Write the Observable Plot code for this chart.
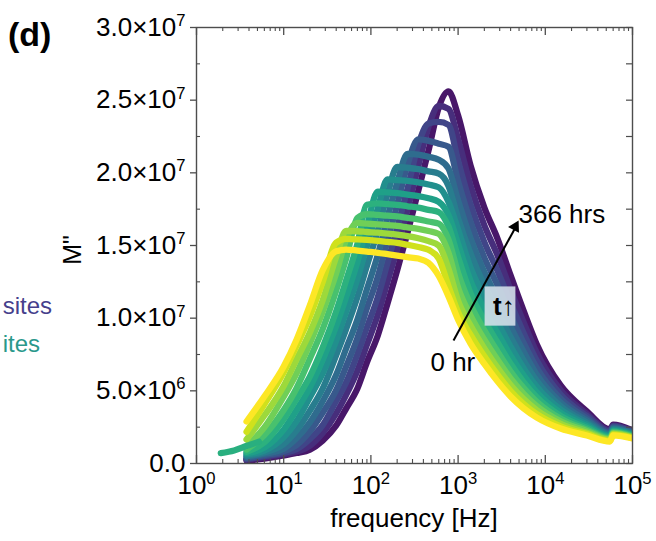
<!DOCTYPE html>
<html><head><meta charset="utf-8">
<script src="https://cdn.jsdelivr.net/npm/d3@7"></script>
<script src="https://cdn.jsdelivr.net/npm/@observablehq/plot@0.6"></script>
<style>
html,body{margin:0;padding:0;background:#fff;}
#chart{width:656px;height:541px;}
</style></head><body><div id="chart"></div>
<script>
// frequency grid (Hz)
const freq = [3.75, 6, 10, 14, 20, 28, 40, 52, 70, 90, 120, 155, 200, 263, 350, 458, 600, 776, 1000, 1390, 2000, 2830, 4000, 5620, 8000, 15000, 30000, 55000, 60000, 100000];
// M'' values in units of 1e6, from 0 hr (m0) to 366 hrs (m13)
const m0  = [0.21, 0.34, 0.55, 0.72, 0.96, 1.58, 2.61, 3.78, 5.16, 6.95, 8.81, 11.01, 13.28, 15.89, 18.78, 21.53, 24.5, 25.6, 23.94, 20.5, 17.61, 15.48, 12.94, 10.53, 8.19, 5.37, 3.58, 2.34, 2.68, 2.27];
const m1  = [0.26, 0.43, 0.64, 0.82, 1.23, 2.1, 3.45, 4.72, 6.38, 8.17, 10.23, 12.5, 14.78, 17.5, 20.47, 23.18, 24.6, 24.4, 22.32, 19.11, 16.38, 14.33, 11.95, 9.74, 7.61, 5.05, 3.41, 2.26, 2.61, 2.22];
const m2  = [0.31, 0.50, 0.73, 0.98, 1.69, 2.64, 4.3, 5.58, 7.52, 9.36, 11.45, 13.8, 16.2, 18.9, 21.95, 23.4, 23.5, 23.3, 20.82, 17.82, 15.23, 13.26, 11.04, 9.00, 7.07, 4.75, 3.26, 2.19, 2.55, 2.18];
const m3  = [0.38, 0.58, 0.84, 1.26, 2.21, 3.49, 5.05, 6.67, 8.63, 10.68, 12.85, 15.34, 17.79, 20.55, 22.3, 22.2, 22.0, 21.8, 19.41, 16.62, 14.16, 12.27, 10.20, 8.32, 6.57, 4.46, 3.10, 2.11, 2.48, 2.13];
const m4  = [0.46, 0.67, 1.02, 1.73, 2.84, 4.28, 6.1, 7.9, 9.9, 11.99, 14.35, 16.93, 19.3, 21.3, 21.25, 21.1, 20.9, 20.3, 18.10, 15.49, 13.17, 11.35, 9.42, 7.70, 6.11, 4.20, 2.96, 2.04, 2.42, 2.08];
const m5  = [0.53, 0.76, 1.33, 2.26, 3.64, 5.16, 7.46, 9.25, 11.45, 13.6, 16.03, 18.53, 20.4, 20.35, 20.25, 20.1, 19.95, 19.1, 16.88, 14.45, 12.25, 10.51, 8.70, 7.12, 5.68, 3.95, 2.82, 1.98, 2.36, 2.04];
const m6  = [0.62, 0.88, 1.8, 2.9, 4.56, 6.19, 8.45, 10.45, 12.7, 14.97, 17.55, 19.55, 19.5, 19.45, 19.35, 19.2, 19.0, 18.0, 16.1, 13.47, 11.39, 9.72, 8.04, 6.58, 5.28, 3.71, 2.69, 1.91, 2.30, 2.00];
const m7  = [0.71, 1.09, 2.33, 3.68, 5.24, 7.14, 9.46, 11.45, 13.85, 16.3, 18.7, 18.65, 18.6, 18.5, 18.4, 18.25, 18.0, 17.1, 15.1, 12.56, 10.59, 9.00, 7.42, 6.08, 4.90, 3.49, 2.57, 1.85, 2.25, 1.96];
const m8  = [0.81, 1.45, 3.04, 4.43, 6.0, 7.99, 10.48, 12.6, 15.1, 17.8, 17.9, 17.85, 17.8, 17.7, 17.6, 17.45, 17.3, 16.3, 14.2, 11.71, 9.85, 8.33, 6.86, 5.62, 4.56, 3.28, 2.45, 1.79, 2.19, 1.91];
const m9  = [0.96, 1.95, 3.68, 5.16, 7.23, 9.25, 11.9, 14.1, 16.9, 17.15, 17.1, 17.05, 17.0, 16.9, 16.8, 16.65, 16.5, 15.4, 13.1, 10.92, 9.16, 7.70, 6.33, 5.20, 4.24, 3.08, 2.33, 1.73, 2.14, 1.87];
const m10 = [1.2, 2.48, 4.6, 6.19, 8.27, 10.45, 13.1, 15.4, 16.55, 16.5, 16.45, 16.4, 16.35, 16.25, 16.15, 16.0, 15.8, 14.5, 12.1, 10.18, 8.52, 7.13, 5.85, 4.81, 3.94, 2.90, 2.23, 1.67, 2.08, 1.83];
const m11 = [1.65, 3.3, 5.33, 7.14, 9.03, 11.23, 14.23, 16.0, 15.98, 15.93, 15.88, 15.82, 15.75, 15.65, 15.5, 15.3, 15.0, 13.4, 11.2, 9.49, 7.92, 6.60, 5.40, 4.45, 3.66, 2.73, 2.12, 1.62, 2.03, 1.80];
const m12 = [2.18, 4.07, 6.28, 8.08, 10.12, 12.5, 15.2, 15.45, 15.42, 15.38, 15.32, 15.25, 15.18, 15.05, 14.9, 14.7, 14.1, 12.2, 10.4, 8.85, 7.37, 6.11, 4.99, 4.11, 3.40, 2.56, 2.02, 1.56, 1.98, 1.76];
const m13 = [2.89, 4.61, 6.67, 8.5, 10.9, 13.3, 14.6, 14.72, 14.65, 14.58, 14.5, 14.4, 14.3, 14.2, 14.1, 13.8, 12.9, 11.5, 9.9, 8.25, 6.85, 5.65, 4.61, 3.80, 3.16, 2.41, 1.93, 1.51, 1.93, 1.72];
const seriesM = [m0, m1, m2, m3, m4, m5, m6, m7, m8, m9, m10, m11, m12, m13];
// short low-frequency teal run
const extraFreq = [1.9, 2.7, 3.75, 5.2];
const extraM = [0.71, 0.9, 1.2, 1.5];

const yTicks = [0, 5e6, 1e7, 1.5e7, 2e7, 2.5e7, 3e7];
const yTickLabels = ["0.0", "5.0×10^6", "1.0×10^7", "1.5×10^7", "2.0×10^7", "2.5×10^7", "3.0×10^7"];
const yMinor = [2.5e6, 7.5e6, 1.25e7, 1.75e7, 2.25e7, 2.75e7];
const xTicks = [1, 10, 100, 1000, 10000, 100000];
const xTickLabels = ["10^0", "10^1", "10^2", "10^3", "10^4", "10^5"];
const xMinor = [];
for (const p of [1, 10, 100, 1000, 10000]) for (let k = 2; k <= 9; k++) xMinor.push(k * p);

const annoArrow = [{f1: 886, m1: 8.46e6, f2: 4700, m2: 16.4e6}];
const annoHead = [{f: 4518, m: 16.29e6}];
const annoText = [{f: 4930, m: 17.15e6, text: "366 hrs"}, {f: 482, m: 6.97e6, text: "0 hr"}];
const annoBox = [{f1: 2040, f2: 4600, m1: 9.45e6, m2: 12.15e6}];
const annoT = [{f: 3080, m: 10.8e6}];

const rows = [];
seriesM.forEach((arr, s) => arr.forEach((m, j) => rows.push({f: freq[j], m: m * 1e6, s, k: "s" + s})));
extraFreq.forEach((f, j) => rows.push({f, m: extraM[j] * 1e6, s: 7.9, k: "extra"}));

const W = 656, H = 541, ML = 196, MR = 24, MT = 27, MB = 78;
const PW = W - ML - MR, PH = H - MT - MB;
const axisColor = "#4d4d4d";
const FONT = "'Liberation Sans', Arial, sans-serif";

const chart = Plot.plot({
  width: W, height: H,
  marginLeft: ML, marginRight: MR, marginTop: MT, marginBottom: MB,
  style: {fontFamily: FONT, background: "white", color: "black"},
  x: {type: "log", domain: [1, 1e5], axis: null},
  y: {domain: [0, 3e7], axis: null},
  color: {type: "linear", domain: [0, 13], interpolate: t => d3.interpolateViridis(0.06 + 0.94 * t)},
  marks: [
    Plot.line(rows, {x: "f", y: "m", z: "k", stroke: "s", curve: "monotone-x", strokeWidth: 6.3,
      strokeLinecap: "round", strokeLinejoin: "round", clip: "frame"}),
    Plot.rect(annoBox, {x1: "f1", x2: "f2", y1: "m1", y2: "m2", fill: "#d6e1ea", fillOpacity: 0.88}),
    Plot.text(annoT, {x: "f", y: "m", text: () => "t", textAnchor: "end", dx: 1, fontSize: 26, fontWeight: "bold", fill: "black"}),
    Plot.text(annoT, {x: "f", y: "m", text: () => "↑", textAnchor: "start", dx: 1, fontSize: 26, fill: "black"}),
    Plot.link(annoArrow, {x1: "f1", y1: "m1", x2: "f2", y2: "m2", stroke: "black", strokeWidth: 2}),
    Plot.dot(annoHead, {x: "f", y: "m", symbol: "triangle", r: 4.6, fill: "black", stroke: "none", rotate: 28.4}),
    Plot.text(annoText, {x: "f", y: "m", text: "text", textAnchor: "start", fontSize: 26, fill: "black"}),
    Plot.frame({stroke: axisColor, strokeWidth: 1.4}),
    // bottom / top ticks (inward)
    Plot.tickX(xTicks, {x: d => d, insetTop: PH - 8, stroke: axisColor, strokeWidth: 1.3}),
    Plot.tickX(xMinor, {x: d => d, insetTop: PH - 4, stroke: axisColor, strokeWidth: 1.1}),
    Plot.tickX(xTicks, {x: d => d, insetBottom: PH - 8, stroke: axisColor, strokeWidth: 1.3}),
    Plot.tickX(xMinor, {x: d => d, insetBottom: PH - 4, stroke: axisColor, strokeWidth: 1.1}),
    // left ticks
    Plot.tickY(yTicks, {y: d => d, insetLeft: -6, insetRight: PW, stroke: axisColor, strokeWidth: 1.3}),
    Plot.tickY(yMinor, {y: d => d, insetRight: PW - 4, stroke: axisColor, strokeWidth: 1.1}),
    // right ticks (inward)
    Plot.tickY(yTicks.concat(yMinor), {y: d => d, insetLeft: PW - 6, stroke: axisColor, strokeWidth: 1.2}),
    // tick labels
    Plot.text(yTicks, {y: d => d, frameAnchor: "left", dx: -11, dy: 0, textAnchor: "end", text: yTickLabels, fontSize: 26, fill: "black"}),
    Plot.text(xTicks, {x: d => d, frameAnchor: "bottom", dy: 30, textAnchor: "middle", text: xTickLabels, fontSize: 26, fill: "black"})
  ]
});

const svg = d3.select(chart);
svg.selectAll("text").each(function () {
  const t = this.textContent;
  if (t.includes("^")) {
    const [b, e] = t.split("^");
    const s = d3.select(this);
    s.text(null);
    s.append("tspan").text(b);
    s.append("tspan").attr("dy", "-0.6em").attr("font-size", "0.64em").text(e);
  }
});
const add = (txt, attrs) => {
  const el = svg.append("text").text(txt).attr("font-family", FONT).attr("fill", "black").attr("text-anchor", "start");
  for (const k in attrs) el.attr(k, attrs[k]);
  return el;
};
add("(d)", {x: 8, y: 46, "font-size": 34, "font-weight": "bold"});
add("sites", {x: 52, y: 314, "font-size": 24, "text-anchor": "end", fill: "#463f8c"});
add("ites", {x: 40, y: 352, "font-size": 24, "text-anchor": "end", fill: "#2a988b"});
add("M\"", {transform: "translate(81,250) rotate(-90)", "font-size": 25, "text-anchor": "middle"});
add("frequency [Hz]", {x: 414, y: 527, "font-size": 26, "text-anchor": "middle"});

document.getElementById("chart").appendChild(chart);
</script></body></html>
